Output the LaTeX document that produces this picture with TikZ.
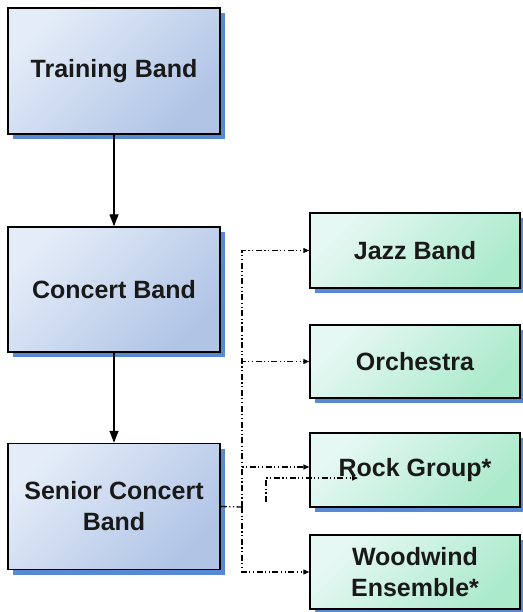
\documentclass[tikz,border=0pt]{standalone}
\usepackage{fontspec}
\setmainfont{Liberation Sans}
\usetikzlibrary{arrows.meta,shadows}
\definecolor{bandtop}{RGB}{228,236,248}
\definecolor{bandbot}{RGB}{176,196,230}
\definecolor{grouptop}{RGB}{230,248,244}
\definecolor{groupbot}{RGB}{172,234,204}
\definecolor{shadowblue}{RGB}{88,138,212}
\tikzset{
  bandbox/.style={draw=black, line width=1.5pt, top color=bandtop, bottom color=bandbot, shading angle=45,
    minimum width=212pt, minimum height=126pt, align=center, text=black!90,
    font=\bfseries\fontsize{25}{31}\selectfont,
    general shadow={fill=shadowblue, shadow xshift=5pt, shadow yshift=-5pt}},
  groupbox/.style={bandbox, top color=grouptop, bottom color=groupbot, shading angle=45,
    minimum width=210pt, minimum height=74pt},
  flow/.style={line width=1.4pt, -{Triangle[length=12pt,width=9pt]}},
  branch/.style={line width=1.3pt, dash pattern=on 6pt off 2.5pt on 1.2pt off 2.5pt on 1.2pt off 2.5pt,
    -{Triangle[length=6pt,width=5pt]}},
}
\begin{document}
\begin{tikzpicture}[x=1pt,y=-1pt]
\useasboundingbox (0,0) rectangle (522,612);
% main line of bands
\node[bandbox] (training) at (114,71) {Training Band};
\node[bandbox, minimum height=125pt] (concert) at (114,289.5) {Concert Band};
\node[bandbox] (senior) at (114,506.5) {Senior Concert\\Band};
\draw[flow] (training) -- (concert);
\draw[flow] (concert) -- (senior);
% groups
\node[groupbox, minimum height=75pt] (jazz) at (415,250.5) {Jazz Band};
\node[groupbox, minimum height=73pt] (orchestra) at (415,361.5) {Orchestra};
\node[groupbox] (rock) at (415,470) {Rock Group*};
\node[groupbox] (woodwind) at (415,572) {Woodwind\\Ensemble*};
% dash-dot links
\coordinate (trunk) at (242,507);
\draw[branch, -] (senior.east) -- (trunk);
\draw[branch] (trunk) |- (jazz.west);
\draw[branch] (trunk) |- (orchestra.west);
\draw[branch] (trunk) |- ([yshift=3pt]rock.west);
\draw[branch] (trunk) |- (woodwind.west);
%\draw stray link
\coordinate (stray1) at (266,502);
\coordinate (stray2) at (358,478);
\draw[branch] (stray1) |- (stray2);
\end{tikzpicture}
\end{document}
